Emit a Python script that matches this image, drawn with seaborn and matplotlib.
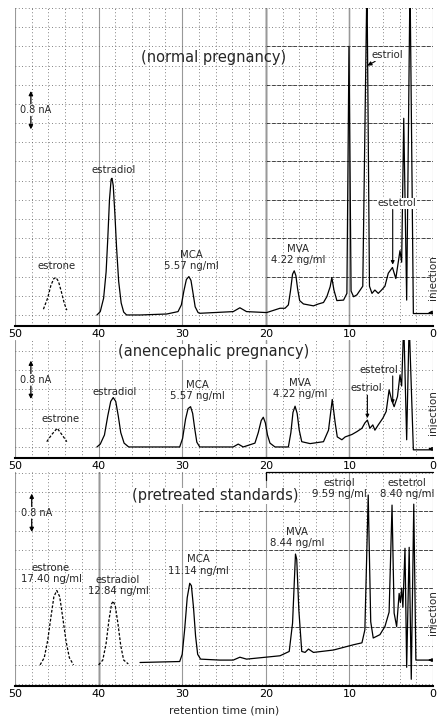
import matplotlib
matplotlib.use("Agg")
import matplotlib.pyplot as plt
from matplotlib.ticker import MultipleLocator
import pandas as pd
import seaborn as sns

sns.set_style("white")
plt.rcParams["font.family"] = ["DejaVu Sans"]

# ---------------------------------------------------------------- data
time_ticks = [50, 40, 30, 20, 10, 0]
tick_labels = ["50", "40", "30", "20", "10", "0"]

# normal pregnancy extract (retention time in min, detector current in nA)
normal_time = [40.2, 39.8, 39.4, 39.1, 38.9, 38.7, 38.5, 38.4, 38.25, 38.05,
               37.85, 37.6, 37.3, 37.0, 36.65, 35.0, 31.85, 30.5, 30.1, 29.8,
               29.5, 29.2, 28.95, 28.7, 28.45, 28.1, 27.9, 23.9, 23.1, 22.3,
               19.9, 18.3, 17.7, 17.3, 17.05, 16.8, 16.6, 16.4, 16.2, 15.95,
               15.5, 14.3, 13.7, 13.1, 12.7, 12.3, 12.1, 11.85, 11.5, 10.7,
               10.3, 10.05, 9.8, 9.5, 9.1, 8.4, 7.9, 7.6, 7.3, 6.95,
               6.55, 6.15, 5.75, 5.35, 4.85, 4.45, 3.95, 3.75, 3.5, 3.15,
               2.75, 2.35, 0.0]
normal_signal = [0.0, 0.07, 0.35, 0.9, 1.6, 2.4, 2.83, 2.85, 2.7, 2.1,
                 1.4, 0.7, 0.25, 0.06, 0.0, 0.0, 0.02, 0.07, 0.21, 0.5,
                 0.74, 0.80, 0.72, 0.45, 0.17, 0.05, 0.035, 0.07, 0.15, 0.07,
                 0.05, 0.14, 0.14, 0.21, 0.5, 0.85, 0.92, 0.82, 0.55, 0.3,
                 0.23, 0.19, 0.23, 0.26, 0.38, 0.59, 0.78, 0.52, 0.30, 0.31,
                 0.45, 5.6, 0.5, 0.38, 0.42, 0.6, 7.0, 0.6, 0.45, 0.52,
                 0.45, 0.52, 0.6, 0.87, 0.99, 0.76, 1.34, 1.1, 4.1, 0.31,
                 7.0, 0.03, 0.03]
normal_estrone_time = [46.6, 46.1, 45.7, 45.35, 45.1, 44.8, 44.45, 44.1, 43.8]
normal_estrone_signal = [0.12, 0.35, 0.62, 0.76, 0.78, 0.70, 0.48, 0.24, 0.10]

# anencephalic pregnancy extract
anen_time = [40.2, 39.8, 39.3, 38.9, 38.55, 38.25, 37.95, 37.65, 37.35, 36.95,
             36.4, 30.3, 29.95, 29.6, 29.3, 29.0, 28.75, 28.5, 28.25, 27.9,
             23.9, 23.3, 22.7, 21.3, 20.9, 20.55, 20.3, 20.05, 19.8, 19.5,
             18.9, 17.3, 17.0, 16.75, 16.5, 16.25, 16.0, 15.7, 14.7, 13.1,
             12.5, 12.05, 11.7, 11.45, 10.9, 10.5, 9.7, 9.1, 8.5, 8.15,
             7.85, 7.55, 7.2, 6.95, 6.55, 6.0, 5.6, 5.25, 4.95, 4.65,
             4.25, 3.95, 3.75, 3.5, 3.15, 2.85, 2.35, 0.0]
anen_signal = [0.0, 0.06, 0.25, 0.65, 0.95, 1.03, 0.95, 0.65, 0.3, 0.08,
               0.0, 0.0, 0.18, 0.58, 0.8, 0.84, 0.7, 0.38, 0.1, 0.0,
               0.0, 0.06, 0.0, 0.08, 0.3, 0.55, 0.62, 0.5, 0.25, 0.08,
               0.0, 0.0, 0.3, 0.72, 0.85, 0.7, 0.35, 0.11, 0.07, 0.11,
               0.35, 0.99, 0.50, 0.21, 0.15, 0.21, 0.26, 0.32, 0.39, 0.50,
               0.56, 0.39, 0.46, 0.35, 0.46, 0.60, 0.74, 1.19, 0.98, 0.84,
               1.05, 1.50, 1.27, 2.6, 0.15, 2.6, -0.06, -0.06]
anen_estrone_time = [46.2, 45.6, 44.95, 44.4, 43.8]
anen_estrone_signal = [0.11, 0.26, 0.39, 0.26, 0.11]

# pretreated standards
std_time = [35.05, 30.3, 30.0, 29.7, 29.4, 29.1, 28.9, 28.65, 28.4, 28.15,
            27.8, 25.5, 23.9, 23.1, 22.3, 18.3, 17.2, 16.8, 16.45, 16.3,
            16.05, 15.7, 15.3, 14.9, 14.3, 11.9, 9.5, 8.5, 8.15, 7.75,
            7.45, 7.15, 6.35, 5.75, 5.25, 4.9, 4.65, 4.35, 4.05, 3.9,
            3.75, 3.6, 3.35, 3.15, 2.85, 2.6, 2.3, 2.05, 0.0]
std_signal = [0.05, 0.07, 0.22, 0.75, 1.4, 1.7, 1.65, 1.2, 0.6, 0.22,
              0.12, 0.10, 0.10, 0.16, 0.12, 0.19, 0.28, 0.87, 2.31, 2.2,
              1.15, 0.28, 0.26, 0.33, 0.26, 0.31, 0.42, 0.46, 0.73, 3.54,
              0.9, 0.56, 0.63, 0.80, 1.10, 3.33, 1.08, 0.80, 1.49, 1.3,
              1.6, 1.2, 2.43, -0.05, 2.45, -0.3, 3.35, 0.10, 0.10]
std_estrone_time = [47.0, 46.5, 46.1, 45.7, 45.35, 45.0, 44.65, 44.3, 43.9,
                    43.5, 43.0]
std_estrone_signal = [0.0, 0.15, 0.5, 1.0, 1.42, 1.55, 1.42, 1.0, 0.5, 0.15,
                      0.0]
std_estradiol_time = [40.0, 39.5, 39.1, 38.75, 38.45, 38.25, 38.0, 37.7, 37.35,
                      37.0, 36.45]
std_estradiol_signal = [0.0, 0.1, 0.45, 0.95, 1.27, 1.33, 1.22, 0.88, 0.4,
                        0.1, 0.02]

scale_bar_nA = 0.8

# ---------------------------------------------------------------- figure
W, H = 437, 721
fig = plt.figure(figsize=(W / 100, H / 100), dpi=100)


def panel(top_px, bottom_px, ylim):
    ax = fig.add_axes([15 / W, 1 - bottom_px / H, (433 - 15) / W,
                       (bottom_px - top_px) / H])
    ax.set_xlim(50, 0)
    ax.set_ylim(*ylim)
    for side in ("top", "left", "right"):
        ax.spines[side].set_visible(False)
    ax.spines["bottom"].set_linewidth(1.5)
    ax.spines["bottom"].set_color("black")
    ax.set_xticks(time_ticks)
    ax.set_xticklabels(tick_labels)
    ax.xaxis.set_minor_locator(MultipleLocator(2))
    ax.yaxis.set_major_locator(MultipleLocator(0.4))
    ax.tick_params(axis="x", which="major", direction="in", length=4,
                   width=1.2, labelsize=8, pad=2, colors="black")
    ax.tick_params(axis="x", which="minor", length=0)
    ax.tick_params(axis="y", length=0, labelleft=False)
    ax.grid(axis="y", which="major", linestyle=(0, (1, 3)), color="0.35", lw=0.6)
    ax.grid(axis="x", which="minor", linestyle=(0, (1, 3)), color="0.35", lw=0.6)
    ax.grid(axis="x", which="major", linestyle="-", color="0.6", lw=0.8)
    ax.set_xlabel("")
    ax.set_ylabel("")
    ax.set_axisbelow(True)
    return ax


def trace(ax, t, s, dashed=False):
    df = pd.DataFrame({"time": t, "signal": s})
    sns.lineplot(data=df, x="time", y="signal", ax=ax, sort=False,
                 estimator=None, color="black", lw=0.9,
                 linestyle=(0, (2.2, 1.4)) if dashed else "-")
    ax.set_xlabel("")
    ax.set_ylabel("")


def scale_bar(ax, t, centre):
    half = scale_bar_nA / 2
    ax.text(t - 0.6, centre, "0.8 nA", fontsize=7, ha="center", va="center")
    arrow = dict(arrowstyle="-|>", color="black", lw=0.9, mutation_scale=6,
                 shrinkA=0, shrinkB=0)
    ax.annotate("", xy=(t, centre + half), xytext=(t, centre + 0.13),
                arrowprops=arrow)
    ax.annotate("", xy=(t, centre - half), xytext=(t, centre - 0.13),
                arrowprops=arrow)


def injection(ax, centre, base):
    ax.text(0.05, centre, "injection", rotation=90, fontsize=7.5,
            ha="center", va="center", clip_on=False)
    ax.annotate("", xy=(0.0, base), xytext=(0.9, base),
                arrowprops=dict(arrowstyle="<|-", color="black", lw=0.8,
                                mutation_scale=5))


lab = dict(fontsize=7.3, ha="center", va="center", linespacing=1.15)
pointer = dict(arrowstyle="-|>", color="black", lw=0.8, mutation_scale=5,
               shrinkA=0, shrinkB=0)

# ---- normal pregnancy
ax1 = panel(8, 326, (-0.23, 6.4))
ax1.hlines([0.8 * k for k in range(1, 8)], 20, 0, colors="0.25",
           linestyles=(0, (4, 1.5)), lw=0.7, zorder=0)
ax1.axvline(20, color="black", lw=1.0, zorder=0)
ax1.axvline(10, color="0.2", lw=0.9, zorder=0)
trace(ax1, normal_estrone_time, normal_estrone_signal, dashed=True)
trace(ax1, normal_time, normal_signal)
ax1.text(26.3, 5.37, "(normal pregnancy)", fontsize=10.5, ha="center", va="center")
ax1.annotate("estriol", xy=(7.85, 5.2), xytext=(5.5, 5.42), fontsize=7.3,
             ha="center", va="center",
             bbox=dict(fc="white", ec="none", pad=0.5),
             arrowprops=dict(arrowstyle="-|>", color="black", lw=0.8,
                             mutation_scale=6, shrinkA=1, shrinkB=0))
ax1.text(38.16, 3.02, "estradiol", **lab)
ax1.text(44.98, 1.02, "estrone", **lab)
ax1.text(28.9, 1.13, "MCA\n5.57 ng/ml", **lab)
ax1.text(16.15, 1.26, "MVA\n4.22 ng/ml", **lab)
ax1.text(4.31, 2.33, "estetrol", bbox=dict(fc="white", ec="none", pad=0.5), **lab)
ax1.annotate("", xy=(4.82, 1.05), xytext=(4.82, 2.2), arrowprops=pointer)
scale_bar(ax1, 48.1, 4.27)
injection(ax1, 0.77, 0.05)

# ---- anencephalic pregnancy
ax2 = panel(340, 458, (-0.23, 2.23))
ax2.axvline(20, color="0.35", lw=0.9, zorder=0)
ax2.axvline(10, color="0.35", lw=0.9, zorder=0)
trace(ax2, anen_estrone_time, anen_estrone_signal, dashed=True)
trace(ax2, anen_time, anen_signal)
ax2.text(26.2, 1.98, "(anencephalic pregnancy)", fontsize=10.5,
         ha="center", va="center", bbox=dict(fc="white", ec="none", pad=0.3))
ax2.text(38.04, 1.15, "estradiol", **lab)
ax2.text(44.6, 0.58, "estrone", **lab)
ax2.text(28.23, 1.17, "MCA\n5.57 ng/ml", **lab)
ax2.text(15.9, 1.22, "MVA\n4.22 ng/ml", **lab)
ax2.text(6.46, 1.6, "estetrol", **lab)
ax2.text(8.0, 1.23, "estriol", **lab)
ax2.annotate("", xy=(4.82, 0.9), xytext=(4.82, 1.48), arrowprops=pointer)
ax2.annotate("", xy=(7.85, 0.6), xytext=(7.85, 1.08), arrowprops=pointer)
scale_bar(ax2, 48.1, 1.4)
injection(ax2, 0.71, -0.04)

# ---- pretreated standards
ax3 = panel(472, 686, (-0.44, 4.02))
ax3.hlines([0.8 * k for k in range(0, 5)], 28, 0, colors="0.25",
           linestyles=(0, (4, 1.5)), lw=0.7, zorder=0)
ax3.axvline(40, color="black", lw=1.0, zorder=0)
ax3.plot([20, 20, 0], [3.85, 4.02, 4.02], color="black", lw=0.9, clip_on=False)
trace(ax3, std_estrone_time, std_estrone_signal, dashed=True)
trace(ax3, std_estradiol_time, std_estradiol_signal, dashed=True)
trace(ax3, std_time, std_signal)
ax3.text(26.1, 3.52, "(pretreated standards)", fontsize=10.5,
         ha="center", va="center", bbox=dict(fc="white", ec="none", pad=0.3))
ax3.text(45.7, 1.9, "estrone\n17.40 ng/ml", **lab)
ax3.text(37.68, 1.65, "estradiol\n12.84 ng/ml", **lab)
ax3.text(28.1, 2.08, "MCA\n11.14 ng/ml", **lab)
ax3.text(16.27, 2.65, "MVA\n8.44 ng/ml", **lab)
ax3.text(11.24, 3.68, "estriol\n9.59 ng/ml", **lab)
ax3.text(3.11, 3.68, "estetrol\n8.40 ng/ml", **lab)
scale_bar(ax3, 48.0, 3.17)
injection(ax3, 1.1, 0.1)
ax3.set_xlabel("retention time (min)", fontsize=7.8, labelpad=5)

fig.savefig("out.png", dpi=100, facecolor="white")
